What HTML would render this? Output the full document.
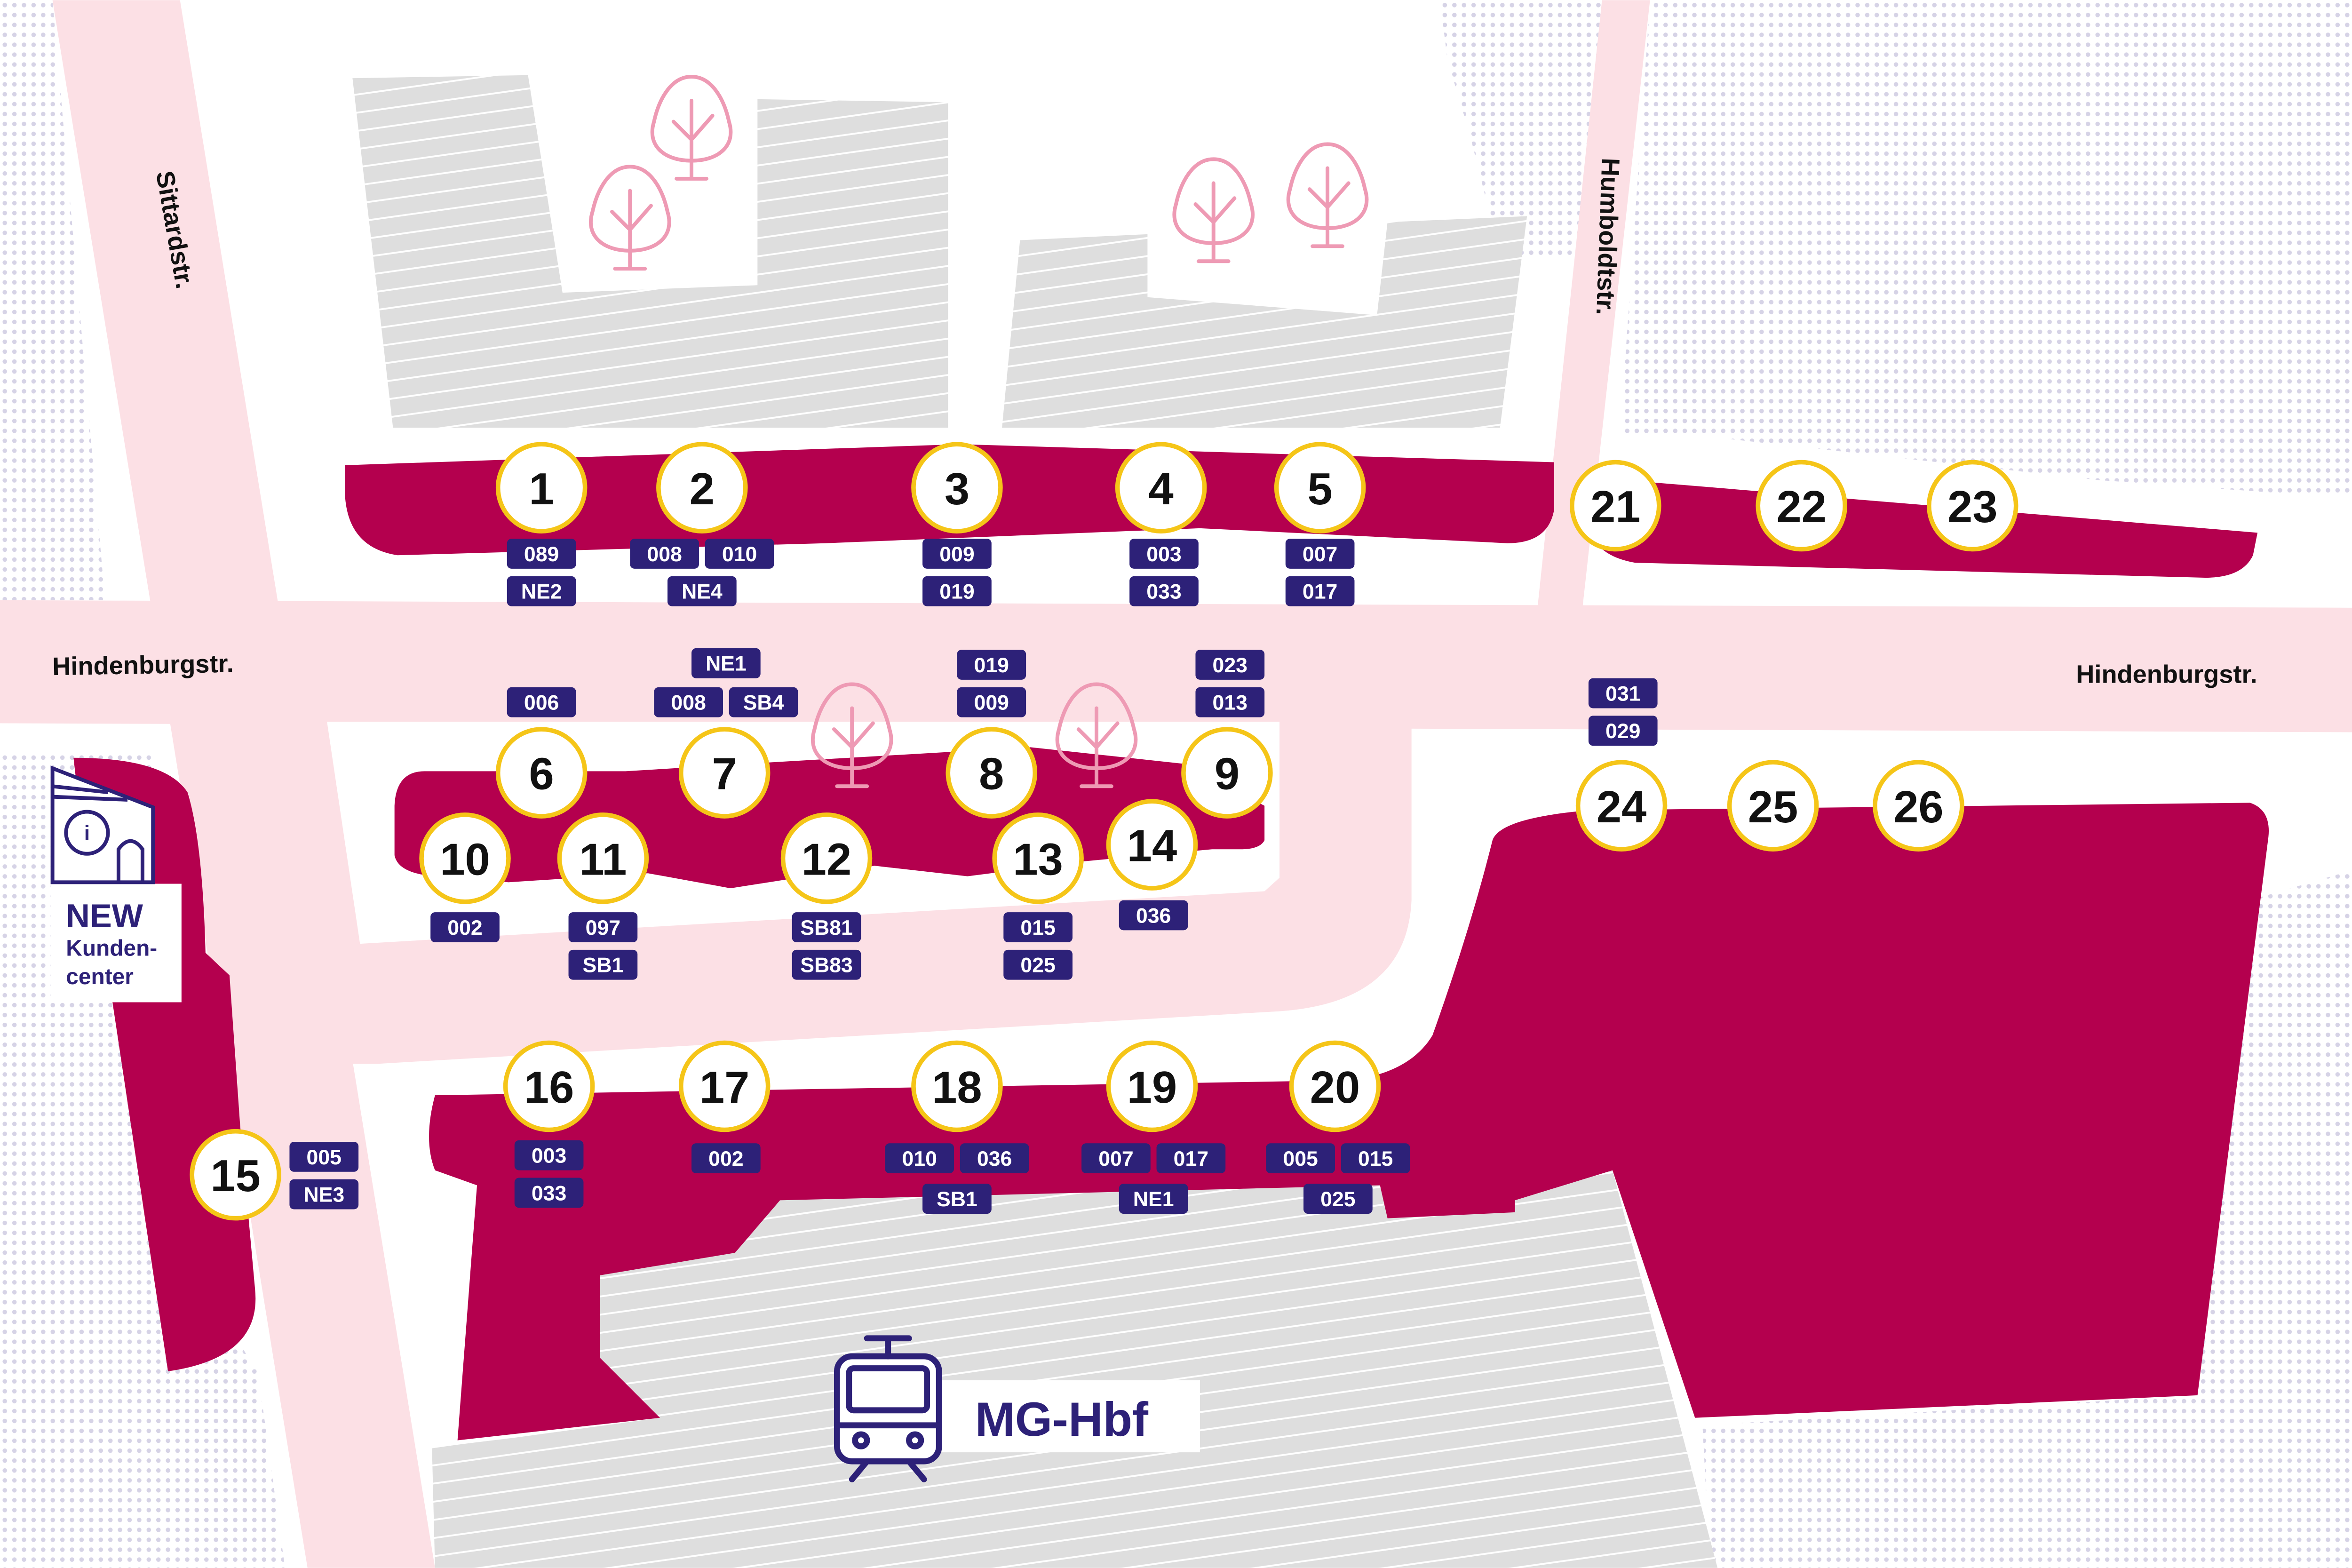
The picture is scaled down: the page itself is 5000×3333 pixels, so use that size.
<!DOCTYPE html>
<html><head><meta charset="utf-8"><style>html,body{margin:0;padding:0;background:#fff}svg{display:block}</style></head>
<body>
<svg width="5000" height="3333" viewBox="0 0 1568 1045" xmlns="http://www.w3.org/2000/svg" font-family="Liberation Sans, sans-serif">
<defs>
<pattern id="dots" width="6.4" height="6.6" patternUnits="userSpaceOnUse"><circle cx="3.2" cy="3.3" r="1.5" fill="#d6d3e6"/></pattern>
<pattern id="hatch" width="20" height="12" patternUnits="userSpaceOnUse" patternTransform="rotate(-8)"><rect width="20" height="12" fill="#dedede"/><rect y="10.8" width="20" height="1.2" fill="#fff"/></pattern>
<g id="tree" fill="none" stroke="#ee9ab4" stroke-width="2.5" stroke-linecap="round" stroke-linejoin="round">
<path d="M0,-34 C-14,-34 -22,-18 -25,-4 C-30,12 -18,22 0,22 C18,22 30,12 25,-4 C22,-18 14,-34 0,-34 Z"/>
<path d="M0,-18 V34 M-12,-4 L0,8 M14,-8 L0,8 M-10,34 H10"/>
</g>
</defs>
<rect width="1568" height="1045" fill="#fff"/>
<!-- dotted areas -->
<polygon points="0,0 35,0 70,400 0,400" fill="url(#dots)"/>
<polygon points="960,0 1070,0 1060,170 1000,170 980,90 965,40" fill="url(#dots)"/>
<polygon points="1100,0 1568,0 1568,332 1400,320 1130,290 1080,290" fill="url(#dots)"/>
<polygon points="0,500 100,500 150,880 172,915 190,1045 0,1045" fill="url(#dots)"/>
<polygon points="1500,600 1568,580 1568,1045 1140,1045 1135,950 1465,930" fill="url(#dots)"/>
<!-- roads -->
<g fill="#fce0e5">
<polygon points="35,0 120,0 290,1045 205,1045"/>
<polygon points="1068,0 1100,0 1055,405 1025,405"/>
<polygon points="0,400 1568,405 1568,488 0,482"/>
<path d="M190,480 H941 V600 Q938,668 853,674 L252,709 L230,709 Z"/>
</g>
<path d="M218,481 H853 V585 L843,594 L240,629 Z" fill="#fff"/>
<!-- buildings -->
<polygon points="235,52 352,50 375,195 505,190 505,66 632,68 632,285 262,285" fill="url(#hatch)"/>
<polygon points="680,160 765,156 765,198 918,210 925,148 1018,144 1000,285 668,285" fill="url(#hatch)"/>
<polygon points="400,850 490,835 520,800 1075,780 1145,1045 290,1045 288,965 345,958 440,945 400,905" fill="url(#hatch)"/>
<!-- magenta -->
<g fill="#b4004e">
<path d="M230,310 L640,296 L1036,308 L1036,340 Q1032,362 1005,362 L800,352 L550,362 L265,370 Q232,365 230,330 Z"/>
<path d="M1060,318 L1505,355 L1502,370 Q1495,385 1470,385 L1090,375 Q1062,370 1060,350 Z"/>
<path d="M283,514 L417,514 L515,508 L687,498 L789,509 L843,537 L843,560 Q840,566 827,566 L808,566 L723,574 L645,584 L583,577 L487,592 L432,582 L339,588 L282,583 Q265,580 263,570 L263,537 Q264,514 283,514 Z"/>
<path d="M290,730 L900,720 Q940,715 955,690 Q980,620 995,560 Q1000,545 1060,540 L1500,535 Q1515,540 1512,560 L1465,930 L1130,945 L1075,780 L1010,800 L1010,808 L925,812 L920,790 L520,800 L490,835 L400,850 L400,905 L440,945 L305,960 L318,790 L290,780 Q282,760 290,730 Z"/>
<path d="M49,505 Q110,505 125,528 Q135,560 137,635 L153,650 L160,749 L170,859 Q175,905 112,914 L75,668 L60,600 Z"/>
</g>
<!-- Kundencenter -->
<rect x="34" y="589" width="87" height="79" fill="#fff"/>
<g fill="none" stroke="#2d2178" stroke-width="2.5">
<path d="M35,512 L102,538 V588 H35 Z" fill="#fff"/>
<line x1="35" y1="524" x2="72" y2="528"/><line x1="35" y1="531" x2="85" y2="533"/>
<circle cx="58" cy="555" r="14"/>
<path d="M79,588 V566 Q87,555 95,566 V588"/>
</g>
<text x="58" y="560" font-size="14" font-weight="bold" fill="#2d2178" text-anchor="middle">i</text>
<text x="44" y="618" font-size="22" font-weight="bold" fill="#2d2178">NEW</text>
<text x="44" y="637" font-size="15" font-weight="bold" fill="#2d2178">Kunden-</text>
<text x="44" y="656" font-size="15" font-weight="bold" fill="#2d2178">center</text>
<!-- trees -->
<use href="#tree" x="461" y="85"/><use href="#tree" x="420" y="145"/><use href="#tree" x="809" y="140"/><use href="#tree" x="885" y="130"/><use href="#tree" x="568" y="490"/><use href="#tree" x="731" y="490"/>
<!-- street labels -->
<g font-size="17" font-weight="bold" fill="#111">
<text transform="translate(104,115) rotate(80)">Sittardstr.</text>
<text x="35" y="450" transform="rotate(-1,35,450)">Hindenburgstr.</text>
<text x="1384" y="455">Hindenburgstr.</text>
<text transform="translate(1068,105) rotate(92)">Humboldtstr.</text>
</g>
<!-- station -->
<rect x="628" y="920" width="172" height="48" fill="#fff"/>
<text x="650" y="957" font-size="32" font-weight="bold" fill="#2d2178">MG-Hbf</text>
<g fill="none" stroke="#2d2178" stroke-width="4" stroke-linecap="round" stroke-linejoin="round">
<rect x="558" y="904" width="68" height="70" rx="10" fill="#fff"/>
<rect x="566" y="912" width="52" height="28" rx="3"/>
<line x1="558" y1="950" x2="626" y2="950"/>
<circle cx="574" cy="960" r="4"/><circle cx="610" cy="960" r="4"/>
<path d="M578,892 H606 M592,892 V904 M578,974 L568,986 M606,974 L616,986"/>
</g>
<!-- circles -->
<g stroke="#f5c518" stroke-width="3" fill="#fff">
<circle cx="361" cy="325" r="29"/><circle cx="468" cy="325" r="29"/><circle cx="638" cy="325" r="29"/><circle cx="774" cy="325" r="29"/><circle cx="880" cy="325" r="29"/>
<circle cx="1077" cy="337" r="29"/><circle cx="1201" cy="337" r="29"/><circle cx="1315" cy="337" r="29"/>
<circle cx="361" cy="515" r="29"/><circle cx="483" cy="515" r="29"/><circle cx="661" cy="515" r="29"/><circle cx="818" cy="515" r="29"/>
<circle cx="310" cy="572" r="29"/><circle cx="402" cy="572" r="29"/><circle cx="551" cy="572" r="29"/><circle cx="692" cy="572" r="29"/><circle cx="768" cy="563" r="29"/>
<circle cx="1081" cy="537" r="29"/><circle cx="1182" cy="537" r="29"/><circle cx="1279" cy="537" r="29"/>
<circle cx="157" cy="783" r="29"/><circle cx="366" cy="724" r="29"/><circle cx="483" cy="724" r="29"/><circle cx="638" cy="724" r="29"/><circle cx="768" cy="724" r="29"/><circle cx="890" cy="724" r="29"/>
</g>
<g font-size="30" font-weight="bold" fill="#111" text-anchor="middle">
<text x="361" y="336">1</text><text x="468" y="336">2</text><text x="638" y="336">3</text><text x="774" y="336">4</text><text x="880" y="336">5</text>
<text x="1077" y="348">21</text><text x="1201" y="348">22</text><text x="1315" y="348">23</text>
<text x="361" y="526">6</text><text x="483" y="526">7</text><text x="661" y="526">8</text><text x="818" y="526">9</text>
<text x="310" y="583">10</text><text x="402" y="583">11</text><text x="551" y="583">12</text><text x="692" y="583">13</text><text x="768" y="574">14</text>
<text x="1081" y="548">24</text><text x="1182" y="548">25</text><text x="1279" y="548">26</text>
<text x="157" y="794">15</text><text x="366" y="735">16</text><text x="483" y="735">17</text><text x="638" y="735">18</text><text x="768" y="735">19</text><text x="890" y="735">20</text>
</g>
<!-- badges -->
<g fill="#2d2178">
<rect x="338" y="359" width="46" height="20" rx="3"/><rect x="338" y="384" width="46" height="20" rx="3"/>
<rect x="420" y="359" width="46" height="20" rx="3"/><rect x="470" y="359" width="46" height="20" rx="3"/><rect x="445" y="384" width="46" height="20" rx="3"/>
<rect x="615" y="359" width="46" height="20" rx="3"/><rect x="615" y="384" width="46" height="20" rx="3"/>
<rect x="753" y="359" width="46" height="20" rx="3"/><rect x="753" y="384" width="46" height="20" rx="3"/>
<rect x="857" y="359" width="46" height="20" rx="3"/><rect x="857" y="384" width="46" height="20" rx="3"/>
<rect x="338" y="458" width="46" height="20" rx="3"/>
<rect x="461" y="432" width="46" height="20" rx="3"/><rect x="436" y="458" width="46" height="20" rx="3"/><rect x="486" y="458" width="46" height="20" rx="3"/>
<rect x="638" y="433" width="46" height="20" rx="3"/><rect x="638" y="458" width="46" height="20" rx="3"/>
<rect x="797" y="433" width="46" height="20" rx="3"/><rect x="797" y="458" width="46" height="20" rx="3"/>
<rect x="1059" y="452" width="46" height="20" rx="3"/><rect x="1059" y="477" width="46" height="20" rx="3"/>
<rect x="287" y="608" width="46" height="20" rx="3"/>
<rect x="379" y="608" width="46" height="20" rx="3"/><rect x="379" y="633" width="46" height="20" rx="3"/>
<rect x="528" y="608" width="46" height="20" rx="3"/><rect x="528" y="633" width="46" height="20" rx="3"/>
<rect x="669" y="608" width="46" height="20" rx="3"/><rect x="669" y="633" width="46" height="20" rx="3"/>
<rect x="746" y="600" width="46" height="20" rx="3"/>
<rect x="193" y="761" width="46" height="20" rx="3"/><rect x="193" y="786" width="46" height="20" rx="3"/>
<rect x="343" y="760" width="46" height="20" rx="3"/><rect x="343" y="785" width="46" height="20" rx="3"/>
<rect x="461" y="762" width="46" height="20" rx="3"/>
<rect x="590" y="762" width="46" height="20" rx="3"/><rect x="640" y="762" width="46" height="20" rx="3"/><rect x="615" y="789" width="46" height="20" rx="3"/>
<rect x="721" y="762" width="46" height="20" rx="3"/><rect x="771" y="762" width="46" height="20" rx="3"/><rect x="746" y="789" width="46" height="20" rx="3"/>
<rect x="844" y="762" width="46" height="20" rx="3"/><rect x="894" y="762" width="46" height="20" rx="3"/><rect x="869" y="789" width="46" height="20" rx="3"/>
</g>
<g font-size="14" font-weight="bold" fill="#fff" text-anchor="middle">
<text x="361" y="374">089</text><text x="361" y="399">NE2</text>
<text x="443" y="374">008</text><text x="493" y="374">010</text><text x="468" y="399">NE4</text>
<text x="638" y="374">009</text><text x="638" y="399">019</text>
<text x="776" y="374">003</text><text x="776" y="399">033</text>
<text x="880" y="374">007</text><text x="880" y="399">017</text>
<text x="361" y="473">006</text>
<text x="484" y="447">NE1</text><text x="459" y="473">008</text><text x="509" y="473">SB4</text>
<text x="661" y="448">019</text><text x="661" y="473">009</text>
<text x="820" y="448">023</text><text x="820" y="473">013</text>
<text x="1082" y="467">031</text><text x="1082" y="492">029</text>
<text x="310" y="623">002</text>
<text x="402" y="623">097</text><text x="402" y="648">SB1</text>
<text x="551" y="623">SB81</text><text x="551" y="648">SB83</text>
<text x="692" y="623">015</text><text x="692" y="648">025</text>
<text x="769" y="615">036</text>
<text x="216" y="776">005</text><text x="216" y="801">NE3</text>
<text x="366" y="775">003</text><text x="366" y="800">033</text>
<text x="484" y="777">002</text>
<text x="613" y="777">010</text><text x="663" y="777">036</text><text x="638" y="804">SB1</text>
<text x="744" y="777">007</text><text x="794" y="777">017</text><text x="769" y="804">NE1</text>
<text x="867" y="777">005</text><text x="917" y="777">015</text><text x="892" y="804">025</text>
</g>
</svg>
</body></html>
